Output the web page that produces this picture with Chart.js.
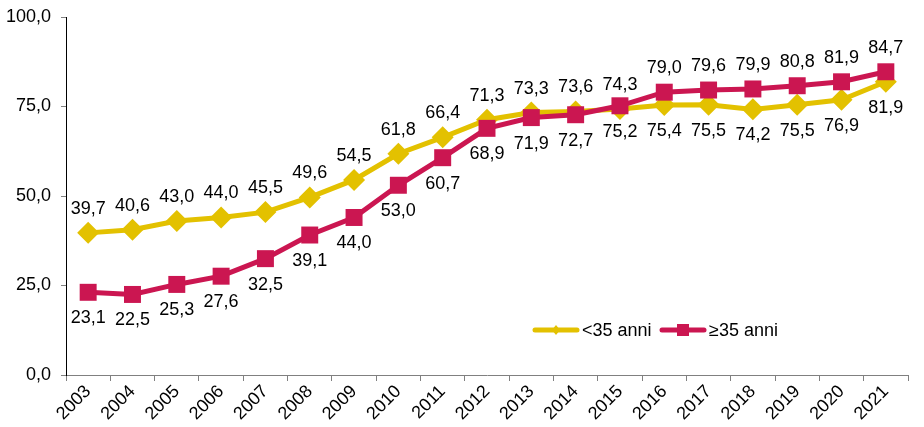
<!DOCTYPE html>
<html>
<head>
<meta charset="utf-8">
<script src="https://cdn.jsdelivr.net/npm/chart.js@4.4.1/dist/chart.umd.min.js"></script>
<style>
  html, body { margin: 0; padding: 0; background: #fff; }
  canvas { display: block; }
</style>
</head>
<body>
<canvas id="grafico" width="924" height="427"></canvas>
<script>
// dati
const anni = ["2003","2004","2005","2006","2007","2008","2009","2010","2011","2012","2013","2014","2015","2016","2017","2018","2019","2020","2021"];
const giovani = [39.7, 40.6, 43.0, 44.0, 45.5, 49.6, 54.5, 61.8, 66.4, 71.3, 73.3, 73.6, 74.3, 75.4, 75.5, 74.2, 75.5, 76.9, 81.9];
const adulti = [23.1, 22.5, 25.3, 27.6, 32.5, 39.1, 44.0, 53.0, 60.7, 68.9, 71.9, 72.7, 75.2, 79.0, 79.6, 79.9, 80.8, 81.9, 84.7];
const nomiSerie = ["<35 anni", "\u226535 anni"];
const tickY = [0, 25, 50, 75, 100];

const giallo = "#E3C100";
const cremisi = "#CB1651";
const fonte = "'Liberation Sans', Arial, sans-serif";

function virgola(v) {
  return v.toFixed(1).replace(".", ",");
}

// etichette dei valori: sopra o sotto il punto
const etichette = {
  id: "etichette",
  afterDatasetsDraw(chart) {
    const ctx = chart.ctx;
    ctx.save();
    ctx.font = "18px " + fonte;
    ctx.fillStyle = "#000";
    ctx.textAlign = "center";
    ctx.textBaseline = "middle";
    chart.data.datasets.forEach(function (ds, d) {
      const meta = chart.getDatasetMeta(d);
      meta.data.forEach(function (p, i) {
        let sopra;
        if (d == 0) sopra = i <= 12;
        else sopra = i > 12;
        const y = sopra ? p.y - 24 : p.y + 26;
        ctx.fillText(virgola(ds.data[i]), p.x, y);
      });
    });
    ctx.restore();
  }
};

// legenda dentro il grafico
const legenda = {
  id: "legenda",
  afterDraw(chart) {
    const ctx = chart.ctx;
    const y = 330;
    ctx.save();
    ctx.lineCap = "round";
    ctx.lineWidth = 5;

    ctx.strokeStyle = giallo;
    ctx.beginPath(); ctx.moveTo(535, y); ctx.lineTo(577, y); ctx.stroke();
    ctx.fillStyle = giallo;
    ctx.beginPath();
    ctx.moveTo(556, y - 5); ctx.lineTo(560, y); ctx.lineTo(556, y + 5); ctx.lineTo(552, y);
    ctx.closePath(); ctx.fill();

    ctx.strokeStyle = cremisi;
    ctx.beginPath(); ctx.moveTo(662, y); ctx.lineTo(704, y); ctx.stroke();
    ctx.fillStyle = cremisi;
    ctx.fillRect(677, y - 6, 12, 12);

    ctx.fillStyle = "#000";
    ctx.font = "18px " + fonte;
    ctx.textBaseline = "middle";
    ctx.fillText(nomiSerie[0], 582, y + 1);
    ctx.fillText(nomiSerie[1], 709, y + 1);
    ctx.restore();
  }
};

new Chart(document.getElementById("grafico"), {
  type: "line",
  data: {
    labels: anni,
    datasets: [
      {
        label: nomiSerie[0],
        data: giovani,
        order: 1,
        borderColor: giallo,
        backgroundColor: giallo,
        borderWidth: 5,
        pointStyle: "rectRot",
        pointRadius: 11,
        pointBorderWidth: 0,
        tension: 0
      },
      {
        label: nomiSerie[1],
        data: adulti,
        order: 0,
        borderColor: cremisi,
        backgroundColor: cremisi,
        borderWidth: 5,
        pointStyle: "rect",
        pointRadius: 12,
        pointBorderWidth: 0,
        tension: 0
      }
    ]
  },
  options: {
    responsive: false,
    animation: false,
    layout: { padding: { top: 17, right: 16, left: 0, bottom: 0 } },
    plugins: {
      legend: { display: false },
      tooltip: { enabled: false }
    },
    scales: {
      x: {
        offset: true,
        grid: { display: true, offset: true, drawOnChartArea: false, tickLength: 6, color: "#808080" },
        border: { display: true, color: "#808080", width: 1 },
        ticks: {
          font: { size: 18, family: fonte },
          color: "#000",
          minRotation: 45,
          maxRotation: 45,
          padding: 0
        },
        afterFit: function (s) { s.height = 52; }
      },
      y: {
        min: 0,
        max: 100,
        afterBuildTicks: function (s) { s.ticks = tickY.map(function (v) { return { value: v }; }); },
        grid: { display: true, drawOnChartArea: false, tickLength: 5, color: "#808080" },
        border: { display: true, color: "#000", width: 1 },
        ticks: {
          font: { size: 18, family: fonte },
          color: "#000",
          padding: 10,
          callback: function (v) { return virgola(v); }
        },
        afterFit: function (s) { s.width = 66; s.paddingTop = 0; s.paddingBottom = 0; }
      }
    }
  },
  plugins: [etichette, legenda]
});
</script>
</body>
</html>
